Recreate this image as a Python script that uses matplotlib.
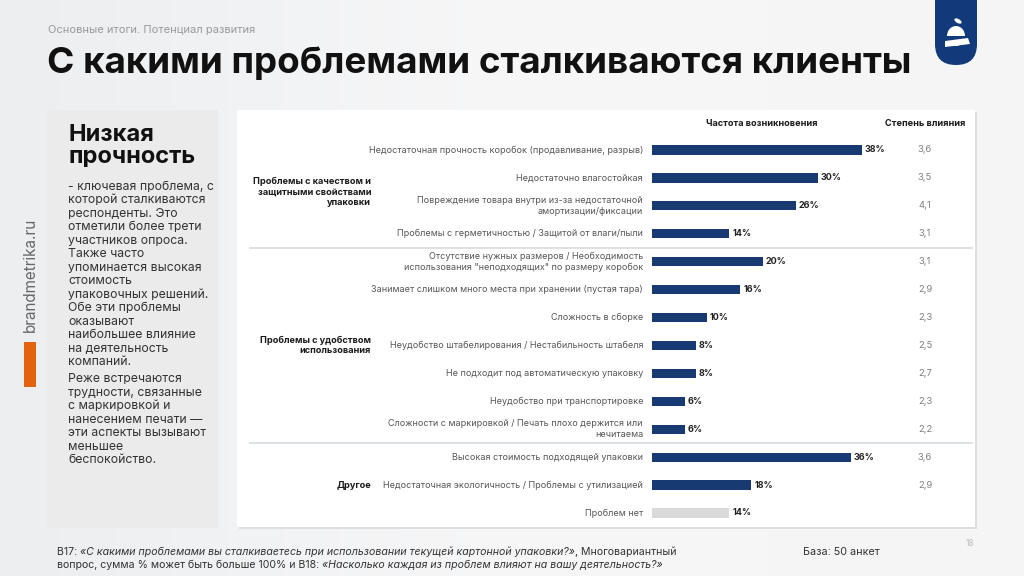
import numpy as np
import matplotlib
matplotlib.use("Agg")
import matplotlib.pyplot as plt
import matplotlib.transforms as mtransforms
from matplotlib.patches import Rectangle, FancyBboxPatch, Ellipse, Polygon

plt.rcParams['font.family'] = ['Inter', 'DejaVu Sans']

# ---- data ----
items = [
    "Недостаточная прочность коробок (продавливание, разрыв)",
    "Недостаточно влагостойкая",
    "Повреждение товара внутри из-за недостаточной\nамортизации/фиксации",
    "Проблемы с герметичностью / Защитой от влаги/пыли",
    "Отсутствие нужных размеров / Необходимость\nиспользования \"неподходящих\" по размеру коробок",
    "Занимает слишком много места при хранении (пустая тара)",
    "Сложность в сборке",
    "Неудобство штабелирования / Нестабильность штабеля",
    "Не подходит под автоматическую упаковку",
    "Неудобство при транспортировке",
    "Сложности с маркировкой / Печать плохо держится или\nнечитаема",
    "Высокая стоимость подходящей упаковки",
    "Недостаточная экологичность / Проблемы с утилизацией",
    "Проблем нет",
]
frequency = [38, 30, 26, 14, 20, 16, 10, 8, 8, 6, 6, 36, 18, 14]
impact = [3.6, 3.5, 4.1, 3.1, 3.1, 2.9, 2.3, 2.5, 2.7, 2.3, 2.2, 3.6, 2.9, None]
groups = [
    ("Проблемы с качеством и\nзащитными свойствами\nупаковки", 0, 3),
    ("Проблемы с удобством\nиспользования", 4, 10),
    ("Другое", 11, 13),
]
side_title = "Низкая\nпрочность"
side_text = [
    "- ключевая проблема, с", "которой сталкиваются", "респонденты. Это",
    "отметили более трети", "участников опроса.", "Также часто",
    "упоминается высокая", "стоимость", "упаковочных решений.",
    "Обе эти проблемы", "оказывают", "наибольшее влияние",
    "на деятельность", "компаний.", None,
    "Реже встречаются", "трудности, связанные", "с маркировкой и",
    "нанесением печати —", "эти аспекты вызывают", "меньшее",
    "беспокойство.",
]

NAVY = "#173a73"
W, H = 1024, 576

fig = plt.figure(figsize=(W / 100, H / 100), dpi=100)

# background axes in pixel coordinates
bg = fig.add_axes([0, 0, 1, 1])
bg.set_xlim(0, W)
bg.set_ylim(H, 0)
bg.axis("off")
grad = np.linspace(0, 1, 256)[None, :]
bg.imshow(grad, extent=[0, W, H, 0], aspect="auto",
          cmap=matplotlib.colors.LinearSegmentedColormap.from_list("g", ["#eceef0", "#f7f7f8", "#f5f5f6"]),
          zorder=0)

# header
bg.text(48, 30, "Основные итоги. Потенциал развития", fontsize=8, color="#9a9a9a",
        va="center", ha="left")
bg.text(47, 63, "С какими проблемами сталкиваются клиенты", fontsize=26.5, fontweight="bold",
        color="#111111", va="center", ha="left")

# logo
bg.add_patch(FancyBboxPatch((935, -30), 42, 95, boxstyle="round,pad=0,rounding_size=21",
                            fc="#123a7a", ec="none", zorder=3))
bg.add_patch(Ellipse((956, 36), 18, 20, fc="white", ec="none", zorder=4))
bg.add_patch(Rectangle((945, 36), 22, 8, fc="#123a7a", ec="none", zorder=4))
bg.add_patch(Polygon([[945, 41], [968, 38], [970, 44], [945, 47]], fc="white", ec="none", zorder=5))
bg.add_patch(Ellipse((958, 21), 8, 4, angle=30, fc="white", ec="none", zorder=4))

# brand text + orange bar
bg.text(30, 275, "brandmetrika.ru", rotation=90, fontsize=11, color="#666666",
        va="center", ha="center")
bg.add_patch(Rectangle((24, 342), 12, 45, fc="#e2620f", ec="none", zorder=3))

# left grey panel
bg.add_patch(Rectangle((47, 110), 171, 418, fc="#ebebeb", ec="none", zorder=2))
bg.text(68, 146, side_title, fontsize=17, fontweight="bold", color="#111111",
        va="center", ha="left", linespacing=1.0, zorder=3)
yy = 187
for line in side_text:
    if line is None:
        yy += 4
        continue
    bg.text(68, yy, line, fontsize=8.8, color="#333333", va="center", ha="left", zorder=3)
    yy += 13.46

# white chart panel with shadow
bg.add_patch(Rectangle((239, 112), 738, 417, fc="#dedede", ec="none", zorder=2))
bg.add_patch(Rectangle((237, 110), 738, 417, fc="white", ec="none", zorder=3))

# footer
renderer = fig.canvas.get_renderer()


def chain(x, y, parts):
    for txt, style in parts:
        t = bg.text(x, y, txt, fontsize=7.6, color="#333333", style=style,
                    va="center", ha="left", zorder=3)
        bb = t.get_window_extent(renderer=renderer)
        x += bb.width


chain(57, 552, [("B17: ", "normal"),
                ("«С какими проблемами вы сталкиваетесь при использовании текущей картонной упаковки?»", "italic"),
                (", Многовариантный", "normal")])
chain(57, 565, [("вопрос, сумма % может быть больше 100% и B18: ", "normal"),
                ("«Насколько каждая из проблем влияют на вашу деятельность?»", "italic")])
bg.text(803, 552, "База: 50 анкет", fontsize=7.8, color="#333333", va="center", ha="left")
bg.text(970, 543, "18", fontsize=6, color="#bbbbbb", va="center", ha="center")

# ---- bar chart ----
px_per_pct = 5.526
row_h = 27.92
top = 150 - row_h / 2
n = len(items)
ax = fig.add_axes([652 / W, 1 - (top + n * row_h) / H, (975 - 652) / W, n * row_h / H])
ax.set_xlim(0, (975 - 652) / px_per_pct)
ax.set_ylim(n - 0.5, -0.5)
ax.axis("off")
ax.patch.set_alpha(0)

ypos = np.arange(n)
colors = [NAVY] * (n - 1) + ["#d9d9d9"]
ax.barh(ypos, frequency, height=0.33, color=colors, zorder=4)
for y, v in zip(ypos, frequency):
    ax.text(v + 0.5, y, f"{v}%", fontsize=6.5, fontweight="bold", color="#222222",
            va="center", ha="left", zorder=5)

tr = mtransforms.blended_transform_factory(bg.transData, ax.transData)
for y, lab in zip(ypos, items):
    ax.text(643, y, lab, transform=tr, fontsize=6.5, color="#555555", va="center",
            ha="right", multialignment="right", linespacing=1.2, zorder=5)
for y, v in zip(ypos, impact):
    if v is None:
        continue
    ax.text(925, y, f"{v:.1f}".replace(".", ","), transform=tr, fontsize=6.8,
            color="#808080", va="center", ha="center", zorder=5)
for name, a, b in groups:
    ax.text(371, (a + b) / 2, name, transform=tr, fontsize=6.6, fontweight="bold",
            color="#1a1a1a", va="center", ha="right", multialignment="right",
            linespacing=1.2, zorder=5)
for name, a, b in groups[:-1]:
    ax.axhline(b + 0.5, xmin=(250 - 652) / 323, xmax=(972 - 652) / 323, color="#d5dbe0",
               lw=1.2, clip_on=False, zorder=4)

bg.text(762, 123, "Частота возникновения", fontsize=6.6, fontweight="bold",
        color="#1a1a1a", va="center", ha="center", zorder=5)
bg.text(925, 123, "Степень влияния", fontsize=6.6, fontweight="bold",
        color="#1a1a1a", va="center", ha="center", zorder=5)

fig.savefig("out.png", dpi=100)
